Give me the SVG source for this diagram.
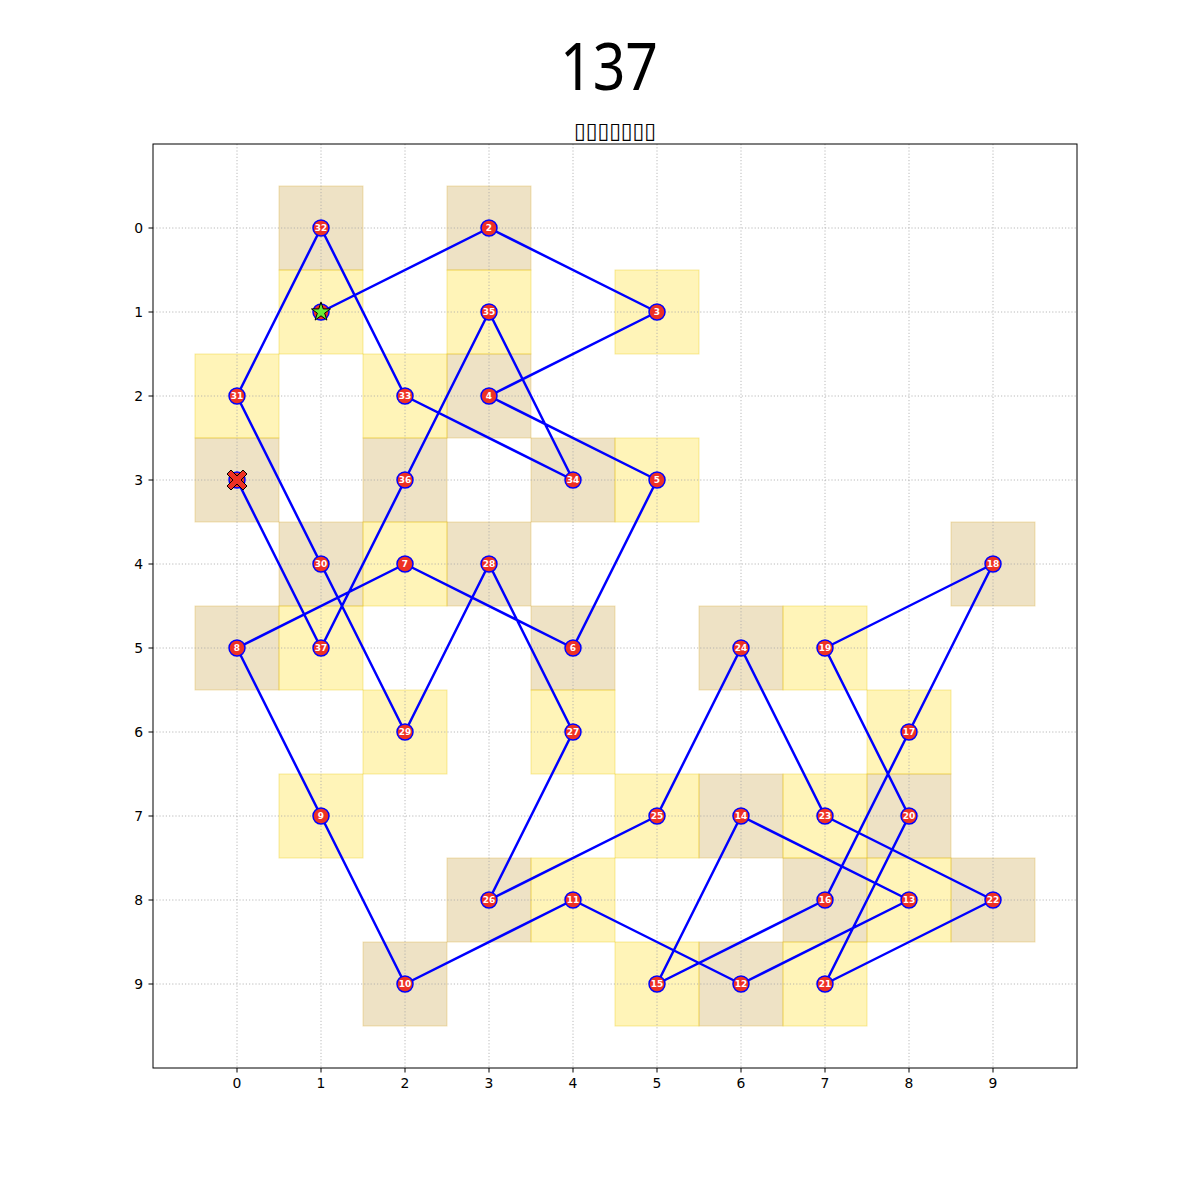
<svg xmlns="http://www.w3.org/2000/svg" width="1200" height="1200" viewBox="0 0 1200 1200">
<style>
.bg{fill:#ffffff}
.tan{fill:#b8860b;fill-opacity:0.24;stroke:#d4a017;stroke-opacity:0.3;stroke-width:1}
.yel{fill:#ffd700;fill-opacity:0.28;stroke:#e6c200;stroke-opacity:0.35;stroke-width:1}
.grid{stroke:#a8a8a8;stroke-width:0.8;stroke-dasharray:1.2,2}
.tick{stroke:#000;stroke-width:1}
.tl{font-family:"DejaVu Sans",sans-serif;font-size:13.9px;fill:#000}
.path{fill:none;stroke:#0000ff;stroke-width:2.5;stroke-linejoin:round;stroke-linecap:round}
.nd{fill:#ee3124;stroke:#0000ff;stroke-width:1.5}
.lb{font-family:"DejaVu Sans",sans-serif;font-size:9px;font-weight:bold;fill:#ffffff;text-anchor:middle}
</style>
<rect class="bg" x="0" y="0" width="1200" height="1200"/>
<text x="609" y="90" font-family="'Noto Sans',sans-serif" font-size="65" text-anchor="middle" fill="#000" textLength="98" lengthAdjust="spacingAndGlyphs">137</text>
<text x="615" y="138" font-family="'DejaVu Sans',sans-serif" font-size="22" text-anchor="middle" fill="#000" textLength="82" lengthAdjust="spacingAndGlyphs">▯▯▯▯▯▯▯</text>
<g id="cells">
<rect class="tan" x="279" y="186" width="84" height="84"/>
<rect class="tan" x="447" y="186" width="84" height="84"/>
<rect class="tan" x="447" y="354" width="84" height="84"/>
<rect class="tan" x="195" y="438" width="84" height="84"/>
<rect class="tan" x="363" y="438" width="84" height="84"/>
<rect class="tan" x="531" y="438" width="84" height="84"/>
<rect class="tan" x="279" y="522" width="84" height="84"/>
<rect class="tan" x="447" y="522" width="84" height="84"/>
<rect class="tan" x="951" y="522" width="84" height="84"/>
<rect class="tan" x="195" y="606" width="84" height="84"/>
<rect class="tan" x="531" y="606" width="84" height="84"/>
<rect class="tan" x="699" y="606" width="84" height="84"/>
<rect class="tan" x="699" y="774" width="84" height="84"/>
<rect class="tan" x="867" y="774" width="84" height="84"/>
<rect class="tan" x="447" y="858" width="84" height="84"/>
<rect class="tan" x="783" y="858" width="84" height="84"/>
<rect class="tan" x="951" y="858" width="84" height="84"/>
<rect class="tan" x="363" y="942" width="84" height="84"/>
<rect class="tan" x="699" y="942" width="84" height="84"/>
<rect class="yel" x="279" y="270" width="84" height="84"/>
<rect class="yel" x="447" y="270" width="84" height="84"/>
<rect class="yel" x="615" y="270" width="84" height="84"/>
<rect class="yel" x="195" y="354" width="84" height="84"/>
<rect class="yel" x="363" y="354" width="84" height="84"/>
<rect class="yel" x="615" y="438" width="84" height="84"/>
<rect class="yel" x="363" y="522" width="84" height="84"/>
<rect class="yel" x="279" y="606" width="84" height="84"/>
<rect class="yel" x="783" y="606" width="84" height="84"/>
<rect class="yel" x="363" y="690" width="84" height="84"/>
<rect class="yel" x="531" y="690" width="84" height="84"/>
<rect class="yel" x="867" y="690" width="84" height="84"/>
<rect class="yel" x="279" y="774" width="84" height="84"/>
<rect class="yel" x="615" y="774" width="84" height="84"/>
<rect class="yel" x="783" y="774" width="84" height="84"/>
<rect class="yel" x="531" y="858" width="84" height="84"/>
<rect class="yel" x="867" y="858" width="84" height="84"/>
<rect class="yel" x="615" y="942" width="84" height="84"/>
<rect class="yel" x="783" y="942" width="84" height="84"/>
</g>
<g id="grid">
<line class="grid" x1="237" y1="144" x2="237" y2="1068"/>
<line class="grid" x1="321" y1="144" x2="321" y2="1068"/>
<line class="grid" x1="405" y1="144" x2="405" y2="1068"/>
<line class="grid" x1="489" y1="144" x2="489" y2="1068"/>
<line class="grid" x1="573" y1="144" x2="573" y2="1068"/>
<line class="grid" x1="657" y1="144" x2="657" y2="1068"/>
<line class="grid" x1="741" y1="144" x2="741" y2="1068"/>
<line class="grid" x1="825" y1="144" x2="825" y2="1068"/>
<line class="grid" x1="909" y1="144" x2="909" y2="1068"/>
<line class="grid" x1="993" y1="144" x2="993" y2="1068"/>
<line class="grid" x1="153" y1="228" x2="1077" y2="228"/>
<line class="grid" x1="153" y1="312" x2="1077" y2="312"/>
<line class="grid" x1="153" y1="396" x2="1077" y2="396"/>
<line class="grid" x1="153" y1="480" x2="1077" y2="480"/>
<line class="grid" x1="153" y1="564" x2="1077" y2="564"/>
<line class="grid" x1="153" y1="648" x2="1077" y2="648"/>
<line class="grid" x1="153" y1="732" x2="1077" y2="732"/>
<line class="grid" x1="153" y1="816" x2="1077" y2="816"/>
<line class="grid" x1="153" y1="900" x2="1077" y2="900"/>
<line class="grid" x1="153" y1="984" x2="1077" y2="984"/>
</g>
<g id="axes">
<rect x="153" y="144" width="924" height="924" fill="none" stroke="#000" stroke-width="1"/>
<path class="tick" d="M237 1068v4.5M321 1068v4.5M405 1068v4.5M489 1068v4.5M573 1068v4.5M657 1068v4.5M741 1068v4.5M825 1068v4.5M909 1068v4.5M993 1068v4.5M153 228h-4.5M153 312h-4.5M153 396h-4.5M153 480h-4.5M153 564h-4.5M153 648h-4.5M153 732h-4.5M153 816h-4.5M153 900h-4.5M153 984h-4.5"/>
<g class="tl" text-anchor="middle">
<text x="237" y="1088">0</text><text x="321" y="1088">1</text><text x="405" y="1088">2</text><text x="489" y="1088">3</text><text x="573" y="1088">4</text><text x="657" y="1088">5</text><text x="741" y="1088">6</text><text x="825" y="1088">7</text><text x="909" y="1088">8</text><text x="993" y="1088">9</text>
</g>
<g class="tl" text-anchor="end">
<text x="143" y="233">0</text><text x="143" y="317">1</text><text x="143" y="401">2</text><text x="143" y="485">3</text><text x="143" y="569">4</text><text x="143" y="653">5</text><text x="143" y="737">6</text><text x="143" y="821">7</text><text x="143" y="905">8</text><text x="143" y="989">9</text>
</g>
</g>
<g id="connectors">
<polyline class="path" points="321,312 489,228 657,312 489,396 657,480 573,648 405,564 237,648 321,816 405,984 573,900 741,984 909,900 741,816 657,984 825,900 909,732 993,564 825,648 909,816 825,984 993,900 825,816 741,648 657,816 489,900 573,732 489,564 405,732 321,564 237,396 321,228 405,396 573,480 489,312 405,480 321,648 237,480"/>
</g>
<g id="nodes">
<g id="n1"><circle class="nd" cx="321" cy="312" r="8"/></g>
<g id="n2"><circle class="nd" cx="489" cy="228" r="8"/><text class="lb" x="489" y="231.3">2</text></g>
<g id="n3"><circle class="nd" cx="657" cy="312" r="8"/><text class="lb" x="657" y="315.3">3</text></g>
<g id="n4"><circle class="nd" cx="489" cy="396" r="8"/><text class="lb" x="489" y="399.3">4</text></g>
<g id="n5"><circle class="nd" cx="657" cy="480" r="8"/><text class="lb" x="657" y="483.3">5</text></g>
<g id="n6"><circle class="nd" cx="573" cy="648" r="8"/><text class="lb" x="573" y="651.3">6</text></g>
<g id="n7"><circle class="nd" cx="405" cy="564" r="8"/><text class="lb" x="405" y="567.3">7</text></g>
<g id="n8"><circle class="nd" cx="237" cy="648" r="8"/><text class="lb" x="237" y="651.3">8</text></g>
<g id="n9"><circle class="nd" cx="321" cy="816" r="8"/><text class="lb" x="321" y="819.3">9</text></g>
<g id="n10"><circle class="nd" cx="405" cy="984" r="8"/><text class="lb" x="405" y="987.3">10</text></g>
<g id="n11"><circle class="nd" cx="573" cy="900" r="8"/><text class="lb" x="573" y="903.3">11</text></g>
<g id="n12"><circle class="nd" cx="741" cy="984" r="8"/><text class="lb" x="741" y="987.3">12</text></g>
<g id="n13"><circle class="nd" cx="909" cy="900" r="8"/><text class="lb" x="909" y="903.3">13</text></g>
<g id="n14"><circle class="nd" cx="741" cy="816" r="8"/><text class="lb" x="741" y="819.3">14</text></g>
<g id="n15"><circle class="nd" cx="657" cy="984" r="8"/><text class="lb" x="657" y="987.3">15</text></g>
<g id="n16"><circle class="nd" cx="825" cy="900" r="8"/><text class="lb" x="825" y="903.3">16</text></g>
<g id="n17"><circle class="nd" cx="909" cy="732" r="8"/><text class="lb" x="909" y="735.3">17</text></g>
<g id="n18"><circle class="nd" cx="993" cy="564" r="8"/><text class="lb" x="993" y="567.3">18</text></g>
<g id="n19"><circle class="nd" cx="825" cy="648" r="8"/><text class="lb" x="825" y="651.3">19</text></g>
<g id="n20"><circle class="nd" cx="909" cy="816" r="8"/><text class="lb" x="909" y="819.3">20</text></g>
<g id="n21"><circle class="nd" cx="825" cy="984" r="8"/><text class="lb" x="825" y="987.3">21</text></g>
<g id="n22"><circle class="nd" cx="993" cy="900" r="8"/><text class="lb" x="993" y="903.3">22</text></g>
<g id="n23"><circle class="nd" cx="825" cy="816" r="8"/><text class="lb" x="825" y="819.3">23</text></g>
<g id="n24"><circle class="nd" cx="741" cy="648" r="8"/><text class="lb" x="741" y="651.3">24</text></g>
<g id="n25"><circle class="nd" cx="657" cy="816" r="8"/><text class="lb" x="657" y="819.3">25</text></g>
<g id="n26"><circle class="nd" cx="489" cy="900" r="8"/><text class="lb" x="489" y="903.3">26</text></g>
<g id="n27"><circle class="nd" cx="573" cy="732" r="8"/><text class="lb" x="573" y="735.3">27</text></g>
<g id="n28"><circle class="nd" cx="489" cy="564" r="8"/><text class="lb" x="489" y="567.3">28</text></g>
<g id="n29"><circle class="nd" cx="405" cy="732" r="8"/><text class="lb" x="405" y="735.3">29</text></g>
<g id="n30"><circle class="nd" cx="321" cy="564" r="8"/><text class="lb" x="321" y="567.3">30</text></g>
<g id="n31"><circle class="nd" cx="237" cy="396" r="8"/><text class="lb" x="237" y="399.3">31</text></g>
<g id="n32"><circle class="nd" cx="321" cy="228" r="8"/><text class="lb" x="321" y="231.3">32</text></g>
<g id="n33"><circle class="nd" cx="405" cy="396" r="8"/><text class="lb" x="405" y="399.3">33</text></g>
<g id="n34"><circle class="nd" cx="573" cy="480" r="8"/><text class="lb" x="573" y="483.3">34</text></g>
<g id="n35"><circle class="nd" cx="489" cy="312" r="8"/><text class="lb" x="489" y="315.3">35</text></g>
<g id="n36"><circle class="nd" cx="405" cy="480" r="8"/><text class="lb" x="405" y="483.3">36</text></g>
<g id="n37"><circle class="nd" cx="321" cy="648" r="8"/><text class="lb" x="321" y="651.3">37</text></g>
<g id="n38"><circle class="nd" cx="237" cy="480" r="8"/></g>
<g id="start"><polygon points="321,302 323.25,308.91 330.51,308.91 324.63,313.18 326.88,320.09 321,315.82 315.12,320.09 317.37,313.18 311.49,308.91 318.75,308.91" fill="#66ee33" stroke="#000" stroke-width="1" stroke-linejoin="miter"/></g>
<g id="end"><polygon transform="translate(237,480)" points="-10,-6 -6,-10 0,-4 6,-10 10,-6 4,0 10,6 6,10 0,4 -6,10 -10,6 -4,0" fill="#ee3124" stroke="#000" stroke-width="1"/></g>
</g>
</svg>
